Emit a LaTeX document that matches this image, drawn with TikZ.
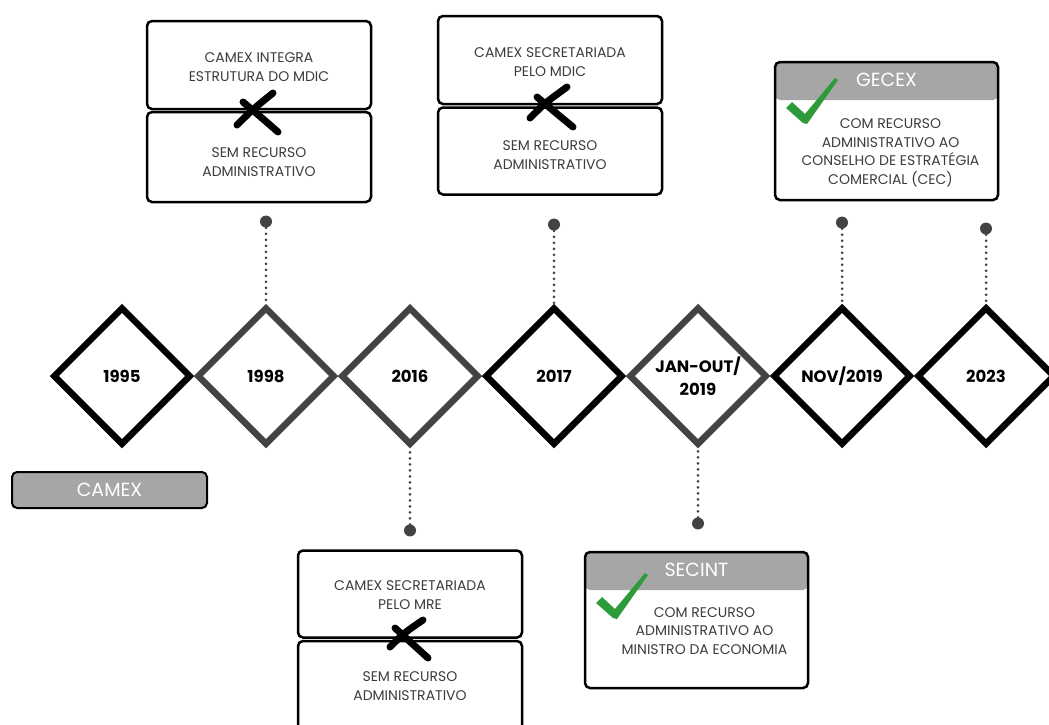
\documentclass[tikz,border=0pt]{standalone}
\usepackage{fontspec}
\setmainfont{Poppins}
\usetikzlibrary{shapes.geometric,positioning}
\definecolor{hdrgray}{HTML}{A6A6A6}
\definecolor{txtgray}{HTML}{3C3C3C}
\definecolor{dmdgray}{HTML}{434343}
\definecolor{okgreen}{HTML}{2E9B3A}
\tikzset{
  yearbox/.style={diamond, draw, line width=6.5pt, minimum width=138pt, minimum height=138pt,
    inner sep=0pt, align=center, font=\bfseries\fontsize{16.5}{23}\selectfont},
  card/.style={draw, line width=2.5pt, rounded corners=5pt, minimum width=224pt, inner sep=0pt},
  bodytxt/.style={align=center, text=txtgray, inner sep=0pt, font=\fontsize{14}{18.7}\selectfont},
  hdrtxt/.style={text=white, inner sep=0pt, font=\fontsize{19}{20}\selectfont},
  tipdot/.style={circle, fill=dmdgray, minimum size=12pt, inner sep=0pt},
  dotline/.style={draw=dmdgray, line width=3pt, dash pattern=on 0pt off 6pt, line cap=round},
  cross/.style={line width=7pt, line cap=round},
  okmark/.pic={\fill[okgreen] (-19,-14) -- (-13,-20) -- (0,-8) -- (30,-44) -- (33,-42) -- (2,2) -- (-2,1) -- cycle;}
}
\begin{document}
\begin{tikzpicture}[x=1pt,y=-1pt]
\useasboundingbox (0,0) rectangle (1049,724);

% timeline
\foreach \nm/\lbl/\col [count=\i from 0] in {d1995/1995/black, d1998/1998/dmdgray, d2016/2016/dmdgray,
    d2017/2017/black, djan/{JAN-OUT/\\2019}/dmdgray, dnov/{NOV/2019}/black, d2023/2023/black}
  \node[yearbox, draw=\col] (\nm) at (122+144*\i,376) {\lbl};

% dots
\node[tipdot, above=76pt of d1998] (p1998) {};
\node[tipdot, above=73pt of d2017] (p2017) {};
\node[tipdot, above=75pt of dnov] (pnov) {};
\node[tipdot, above=69pt of d2023] (p2023) {};
\node[tipdot, below=76pt of d2016] (p2016) {};
\node[tipdot, below=69pt of djan] (pjan) {};
\foreach \a/\b in {p1998/d1998, p2017/d2017, pnov/dnov, p2023/d2023, p2016/d2016, pjan/djan}
  \draw[dotline] (\a) -- (\b);

% 1998
\node[card, minimum height=88pt] (t1998) at (259,65) {};
\node[card, minimum height=90pt] (b1998) at (259,157) {};
\node[bodytxt] (t1998txt) at ([yshift=-2pt]t1998.center) {CAMEX INTEGRA\\ESTRUTURA DO MDIC};
\node[bodytxt] (b1998txt) at ([yshift=-5pt]b1998.center) {SEM RECURSO\\ADMINISTRATIVO};
\draw[cross] (237,125) .. controls (252,110) .. (273,93);
\draw[cross] (243,102) .. controls (262,118) .. (278,132);

% 2017
\node[card, minimum height=88pt] (t2017) at (550,60) {};
\node[card, minimum height=87pt] (b2017) at (550,151) {};
\node[bodytxt] (t2017txt) at ([yshift=-2pt]t2017.center) {CAMEX SECRETARIADA\\PELO MDIC};
\node[bodytxt] (b2017txt) at ([yshift=-4pt]b2017.center) {SEM RECURSO\\ADMINISTRATIVO};
\draw[cross] (530,118) .. controls (545,103) .. (567,87);
\draw[cross] (537,97) .. controls (556,113) .. (573,127);

% 2016
\node[card, minimum height=87pt] (t2016) at (410,594) {};
\node[card, minimum height=90pt] (b2016) at (410,686) {};
\node[bodytxt] (t2016txt) at ([yshift=-1pt]t2016.center) {CAMEX SECRETARIADA\\PELO MRE};
\node[bodytxt] (b2016txt) at (b2016.center) {SEM RECURSO\\ADMINISTRATIVO};
\draw[cross] (390,647) .. controls (404,633) .. (423,620);
\draw[cross] (395,628) .. controls (412,643) .. (428,658);

% GECEX
\node[card, minimum width=223pt, minimum height=138pt,
  path picture={\fill[hdrgray] (path picture bounding box.north west) rectangle ([yshift=-38pt]path picture bounding box.north east);}]
  (gecex) at (886.5,131) {};
\node[hdrtxt] (gecexlbl) at ([yshift=-19pt]gecex.north) {GECEX};
\node[bodytxt] (gecextxt) at ([xshift=4pt,yshift=-22pt]gecex.center)
  {COM RECURSO\\ADMINISTRATIVO AO\\CONSELHO DE ESTRATÉGIA\\COMERCIAL (CEC)};
\pic at (805,122) {okmark};

% SECINT
\node[card, minimum width=223pt, minimum height=136pt,
  path picture={\fill[hdrgray] (path picture bounding box.north west) rectangle ([yshift=-38pt]path picture bounding box.north east);}]
  (secint) at (696.5,620) {};
\node[hdrtxt] (secintlbl) at ([yshift=-19pt]secint.north) {SECINT};
\node[bodytxt] (secinttxt) at ([xshift=8pt,yshift=-11pt]secint.center)
  {COM RECURSO\\ADMINISTRATIVO AO\\MINISTRO DA ECONOMIA};
\pic at (615,617) {okmark};

% CAMEX
\node[card, fill=hdrgray, minimum width=195pt, minimum height=36pt, line width=2pt,
  hdrtxt, text=white] (camex) at (109.5,490) {CAMEX};
\end{tikzpicture}
\end{document}
